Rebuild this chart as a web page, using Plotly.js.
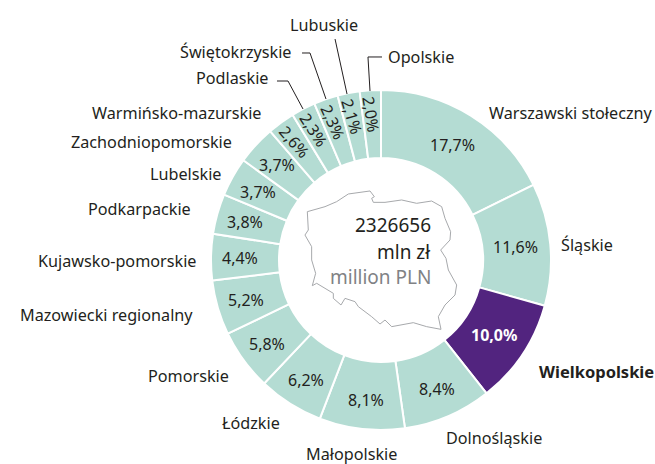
<!DOCTYPE html>
<html><head><meta charset="utf-8"><script src="https://cdn.plot.ly/plotly-3.0.1.min.js"></script>
<style>html,body{margin:0;padding:0;background:#fff}</style></head><body><div id="c" style="width:655px;height:464px"></div>
<script>
const regions=["Warszawski stołeczny","Śląskie","Wielkopolskie","Dolnośląskie","Małopolskie","Łódzkie","Pomorskie","Mazowiecki regionalny","Kujawsko-pomorskie","Podkarpackie","Lubelskie","Zachodniopomorskie","Warmińsko-mazurskie","Podlaskie","Świętokrzyskie","Lubuskie","Opolskie"];
const shares=[17.7,11.6,10.0,8.4,8.1,6.2,5.8,5.2,4.4,3.8,3.7,3.7,2.6,2.3,2.3,2.1,2.0];
const highlighted="Wielkopolskie";
const centerLines=["2326656","mln zł","million PLN"];
const labelCentres=[[571,113],[587,245],[596,371],[494,438],[351,454],[251,423],[188,376],[106,315],[117,261],[139,209],[185,174],[151,142],[177,113],[232,78],[235,52],[324,25],[421,57]];
const W=655,H=464,cx=381,cy=260,R=170,hole=0.6;
const px=x=>x/W, py=y=>1-y/H;
const font="'Noto Sans', sans-serif", dark="#231f20";
const ann=[];
regions.forEach((r,i)=>{
  const hi=r===highlighted;
  ann.push({text:hi?"<b>"+r+"</b>":r,x:px(labelCentres[i][0]),y:py(labelCentres[i][1]),xref:"paper",yref:"paper",showarrow:false,xanchor:"center",yanchor:"middle",font:{family:font,size:hi?16.5:16.2,color:dark}});
});
let cum=0;
shares.forEach((v,i)=>{
  const mid=(cum+v/2)/100*2*Math.PI; cum+=v;
  const small=v<3;
  const rr=R*(v>=10?0.795:(small?0.86:0.83));
  const deg=mid*180/Math.PI-360;
  const hi=regions[i]===highlighted;
  ann.push({text:(hi?"<b>":"")+v.toFixed(1).replace(".",",")+"%"+(hi?"</b>":""),
    x:px(cx+rr*Math.sin(mid)),y:py(cy-rr*Math.cos(mid)),xref:"paper",yref:"paper",showarrow:false,xanchor:"center",yanchor:"middle",
    textangle:small?85+deg:0,font:{family:font,size:16,color:hi?"#fff":dark}});
});
[[centerLines[0],225,dark],[centerLines[1],252,dark],[centerLines[2],277,"#808285"]].forEach(l=>{
  ann.push({text:l[0],x:px(433),y:py(l[1]),xref:"paper",yref:"paper",showarrow:false,xanchor:"right",yanchor:"middle",font:{family:font,size:19,color:l[2]}});
});
const toPath=pts=>pts.map((p,i)=>(i?"L":"M")+px(p[0]).toFixed(4)+","+py(p[1]).toFixed(4)).join(" ");
const leaders=[[[382,57],[368,57],[370,91]],[[335,39],[347,94]],[[302,53],[310,53],[326,99]],[[277,81],[288,81],[303,109]]];
const outlineZoom=[[112,125],[165,110],[200,95],[235,72],[300,63],[313,80],[305,85],[310,97],[345,97],[395,90],[440,100],[485,93],[515,110],[525,145],[542,185],[540,210],[512,240],[528,265],[535,300],[560,345],[555,375],[525,405],[505,440],[513,478],[470,470],[430,458],[365,470],[345,450],[330,462],[305,440],[265,410],[255,395],[225,385],[213,405],[190,385],[190,370],[140,340],[127,347],[137,310],[125,270],[125,230],[105,195],[115,180],[112,125]];
const outline=outlineZoom.map(p=>[270+p[0]/3,170+p[1]/3]);
const shapes=leaders.map(l=>({type:"path",xref:"paper",yref:"paper",path:toPath(l),line:{color:dark,width:1}}));
shapes.push({type:"path",xref:"paper",yref:"paper",path:toPath(outline)+" Z",line:{color:"#a7a9ac",width:1}});
Plotly.newPlot("c",[{type:"pie",labels:regions,values:shares,sort:false,direction:"clockwise",rotation:0,hole:hole,textinfo:"none",hoverinfo:"label+percent",
  marker:{colors:regions.map(r=>r===highlighted?"#52247f":"#b4dcd3"),line:{color:"#fff",width:2}},
  domain:{x:[px(cx-R),px(cx+R)],y:[py(cy+R),py(cy-R)]}}],
 {width:W,height:H,margin:{l:0,r:0,t:0,b:0},showlegend:false,paper_bgcolor:"#fff",annotations:ann,shapes:shapes},{displayModeBar:false});
</script></body></html>
